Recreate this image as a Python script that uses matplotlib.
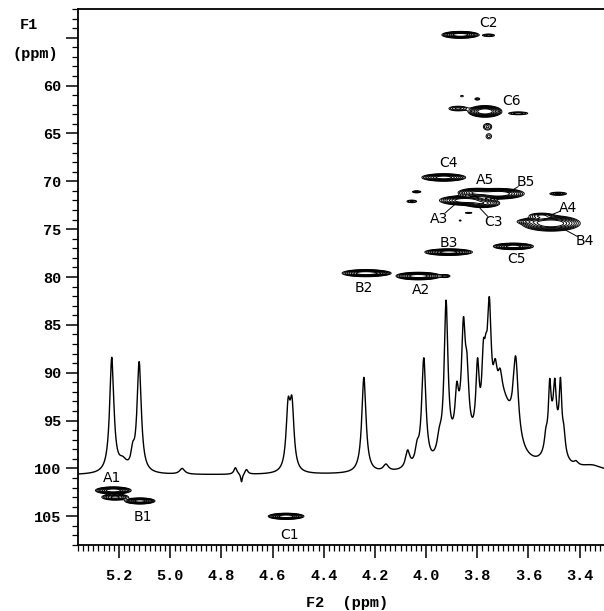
import numpy as np
import matplotlib.pyplot as plt
from matplotlib.ticker import MultipleLocator, FixedLocator

# 1D proton projection: peak centre (F2 ppm), height (ppm on F1 scale), half width (ppm)
proj_pos = [5.228, 5.121, 5.146, 5.185, 4.953, 4.745, 4.721, 4.702, 4.539, 4.524,
            4.243, 4.157, 4.072, 4.035, 4.009, 3.948, 3.922, 3.880, 3.854, 3.840,
            3.799, 3.776, 3.766, 3.753, 3.730, 3.711, 3.650, 3.860, 3.700, 3.532,
            3.517, 3.497, 3.475, 3.462, 3.500, 3.414, 3.350]
proj_amp = [12.0, 11.5, 1.5, 1.0, 0.6, 0.7, -0.9, 0.5, 6.2, 6.4,
            10.0, 0.7, 1.8, 1.5, 11.2, 1.8, 15.8, 4.3, 10.5, 5.2,
            7.5, 7.0, 4.0, 12.0, 4.0, 2.5, 8.5, 3.0, 6.5, 1.5,
            5.5, 4.0, 6.5, 2.0, 4.5, 0.4, 0.7]
proj_hw = [0.010, 0.010, 0.008, 0.02, 0.012, 0.007, 0.004, 0.007, 0.0095, 0.0095,
           0.010, 0.012, 0.010, 0.009, 0.010, 0.011, 0.009, 0.008, 0.009, 0.008,
           0.008, 0.008, 0.007, 0.009, 0.010, 0.010, 0.012, 0.05, 0.05, 0.007,
           0.006, 0.006, 0.006, 0.007, 0.025, 0.01, 0.06]
proj_base = 100.7

# HSQC cross peaks: F2 (1H), F1 (13C), widths, relative intensity
xp_f2 = [3.866, 3.755, 3.770, 3.875, 3.640, 3.760, 3.755, 3.800, 3.860,
         3.931, 3.718, 3.805, 3.848, 3.780, 3.484, 4.037, 4.056, 3.867, 3.834,
         3.512, 3.590, 3.550, 3.912, 3.659, 4.236, 4.180, 4.030, 3.925,
         5.222, 5.215, 5.118, 4.547]
xp_f1 = [54.7, 54.75, 62.7, 62.4, 62.9, 64.3, 65.3, 61.4, 61.1,
         69.6, 71.3, 71.2, 72.0, 72.3, 71.3, 71.1, 72.1, 74.1, 73.3,
         74.4, 74.2, 73.6, 77.4, 76.8, 79.6, 79.6, 79.9, 79.9,
         102.3, 103.0, 103.4, 105.0]
xp_sx = [0.029, 0.015, 0.026, 0.022, 0.025, 0.012, 0.010, 0.008, 0.006,
         0.035, 0.040, 0.030, 0.040, 0.030, 0.020, 0.012, 0.014, 0.004, 0.012,
         0.045, 0.030, 0.025, 0.038, 0.032, 0.037, 0.020, 0.035, 0.012,
         0.028, 0.025, 0.024, 0.028]
xp_sy = [0.145, 0.09, 0.24, 0.15, 0.10, 0.25, 0.25, 0.10, 0.08,
         0.16, 0.22, 0.20, 0.20, 0.20, 0.10, 0.08, 0.10, 0.06, 0.05,
         0.32, 0.15, 0.15, 0.14, 0.14, 0.15, 0.10, 0.16, 0.10,
         0.15, 0.15, 0.13, 0.13]
xp_amp = [0.9, 0.12, 1.0, 0.15, 0.12, 0.10, 0.07, 0.08, 0.06,
          0.8, 1.0, 0.6, 0.9, 0.5, 0.15, 0.10, 0.10, 0.06, 0.07,
          1.0, 0.15, 0.20, 0.8, 0.8, 0.9, 0.15, 0.9, 0.12,
          0.9, 0.35, 0.8, 0.9]

# assignment labels: text, label position, optional leader line end
lab_text = ['C2', 'C6', 'C4', 'A5', 'B5', 'A3', 'C3', 'A4', 'B4',
            'B3', 'C5', 'B2', 'A2', 'A1', 'B1', 'C1']
lab_f2 = [3.756, 3.667, 3.912, 3.768, 3.612, 3.951, 3.737, 3.445, 3.379,
          3.912, 3.647, 4.243, 4.021, 5.227, 5.107, 4.535]
lab_f1 = [53.5, 61.6, 68.1, 69.9, 70.1, 73.9, 74.3, 72.8, 76.2,
          76.4, 78.1, 81.2, 81.4, 101.0, 105.1, 107.0]
line_to = {'B5': (3.680, 71.2), 'A3': (3.887, 72.4), 'C3': (3.790, 72.8),
           'A4': (3.520, 73.6), 'B4': (3.455, 75.1)}

x_min, x_max = 3.305, 5.36
y_min, y_max = 52.0, 108.0

fig = plt.figure(figsize=(6.04, 6.11), dpi=100)
ax = fig.add_axes([78 / 604, 66 / 611, 526 / 604, 536 / 611])

# contour map
gx = np.linspace(x_min, x_max, 1400)
gy = np.linspace(y_min, y_max, 3000)
Z = np.zeros((len(gy), len(gx)))
for f2, f1, sx, sy, a in zip(xp_f2, xp_f1, xp_sx, xp_sy, xp_amp):
    ex = np.exp(-0.5 * ((gx - f2) / sx) ** 2)
    ey = np.exp(-0.5 * ((gy - f1) / sy) ** 2)
    Z += a * np.outer(ey, ex)
levels = [0.04, 0.06, 0.09, 0.13, 0.19, 0.28, 0.4, 0.55]
ax.contour(gx, gy, Z, levels=levels, colors='k', linewidths=0.7)

# projection
sx_ = np.linspace(x_min, x_max, 5000)
spec = np.zeros_like(sx_)
for p, a, w in zip(proj_pos, proj_amp, proj_hw):
    spec += a * w ** 2 / ((sx_ - p) ** 2 + w ** 2)
ax.plot(sx_, proj_base - spec, color='k', lw=1.0)

lab_font = dict(family='DejaVu Sans', fontsize=10)
for t, x, y in zip(lab_text, lab_f2, lab_f1):
    ax.text(x, y, t, ha='center', va='center', **lab_font)
    if t in line_to:
        ax.annotate('', xy=line_to[t], xytext=(x, y),
                    arrowprops=dict(arrowstyle='-', lw=0.7, color='k',
                                    shrinkA=6, shrinkB=0))

ax.set_xlim(x_max, x_min)
ax.set_ylim(y_max, y_min)

ax.spines['right'].set_visible(False)
for s in ['left', 'top', 'bottom']:
    ax.spines[s].set_linewidth(1.3)

ax.xaxis.set_major_locator(FixedLocator([5.2, 5.0, 4.8, 4.6, 4.4, 4.2, 4.0, 3.8, 3.6, 3.4]))
ax.xaxis.set_minor_locator(MultipleLocator(0.02))
ax.yaxis.set_major_locator(MultipleLocator(5))
ax.yaxis.set_minor_locator(MultipleLocator(1))
ax.tick_params(which='major', direction='out', length=9, width=1.1)
ax.tick_params(which='minor', direction='out', length=4.5, width=0.9)
ax.tick_params(axis='x', pad=8)
ax.tick_params(axis='y', pad=3)

mono = dict(family='Liberation Mono', weight='bold', fontsize=11)
ax.set_xticklabels(['%.1f' % v for v in ax.get_xticks()], **mono)
yt = ax.get_yticks()
ax.set_yticklabels(['' if v < 57 else '%d' % v for v in yt], **mono)

fig.text(29 / 604, 1 - 25 / 611, 'F1', ha='center', va='center', **mono)
fig.text(35 / 604, 1 - 54 / 611, '(ppm)', ha='center', va='center', **mono)
fig.text(347 / 604, 1 - 603 / 611, 'F2  (ppm)', ha='center', va='center', **mono)

fig.savefig('out.png', dpi=100)
